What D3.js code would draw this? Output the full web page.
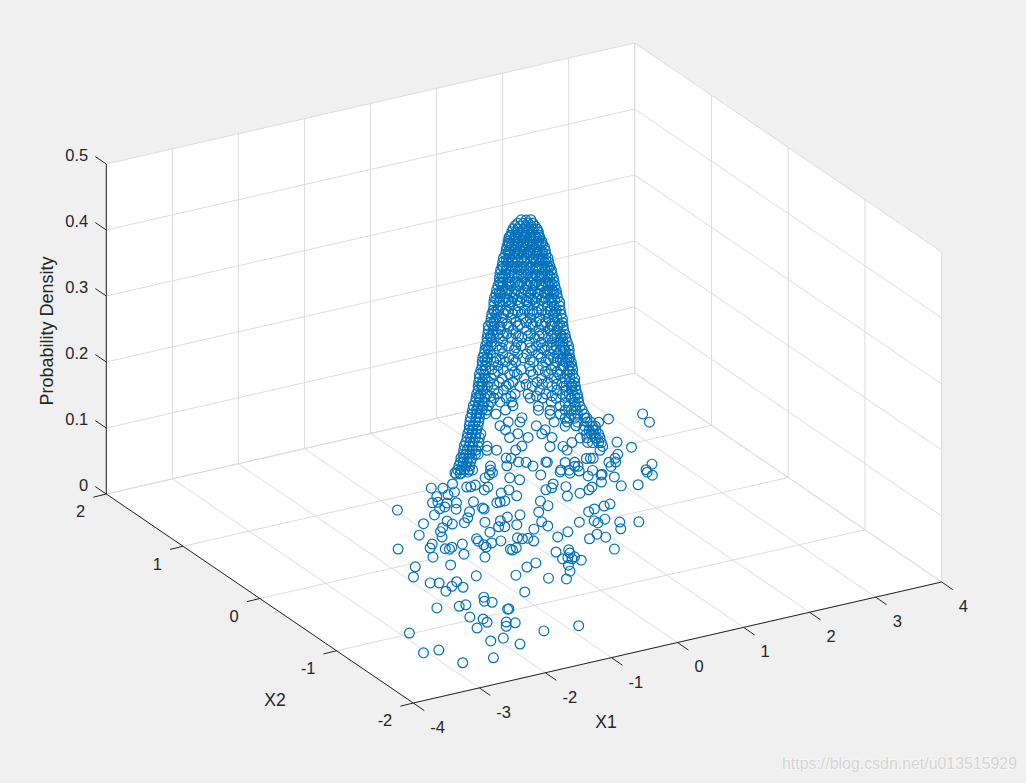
<!DOCTYPE html>
<html><head><meta charset="utf-8">
<script src="https://cdn.jsdelivr.net/npm/d3@7"></script>
<style>html,body{margin:0;padding:0;background:#f0f0f0;overflow:hidden}svg{display:block}text{font-family:"Liberation Sans",Arial,sans-serif;fill:#262626}</style>
</head><body>
<svg id="c" width="1026" height="783"></svg>
<script>
// Values, grouped by density level (one row per level).
const x1Ticks=[-4,-3,-2,-1,0,1,2,3,4];
const x2Ticks=[-2,-1,0,1,2];
const densityTicks=[0,0.1,0.2,0.3,0.4,0.5];
const densityLevels=[.01,.04,.482,.477,.473,.468,.464,.459,.455,.45,.445,.441,.436,.43,.424,.418,.412,.406,.4,.394,.388,.382,.376,.37,.364,.358,.352,.345,.339,.333,.327,.321,.315,.309,.303,.297,.291,.285,.279,.273,.267,.261,.255,.248,.242,.236,.23,.224,.218,.212,.206,.2,.194,.188,.182,.176,.17,.164,.158,.152,.145,.139,.133,.127,.121,.115,.109,.103,.097,
.456,.447,.433,.421,.409,.397,.385,.373,.361,.342,.324,.306,.288,.27,.252,.233,.215];
const x1ByLevel=[
[-2.01,-1.92,-1.82,-1.88,-1.73,-1.60,-1.62,-1.28,-.82,-.50,-.31,-.14,-1.00,-1.55,-1.61,-1.54,-2.26,-1.98,-1.88,-1.48,-1.46,-2.04,-1.92,-1.93,-2.14,-1.71,-1.78,-1.62,-1.43,-.95,-2.99,-2.20,-2.01,-1.92,-2.94,-3.16,-2.88,-2.45,-1.39,-1.82,.17,-.02,.06,.09,-.06,-.39,-.56,.15,-.87,-1.46,-1.06,.16,.02,.20,.73,
-1.08,-.56,-.49,-.40,-.49,-.29,-.40,-.58,-.74,-.08,-.08,-.08,.29,.17,.22,.23,.05,-.09,.03,-.29,-.29,-.41,-.53,-1.01,-1.25,-.70,-.69,-.86,-.95,-1.02,-.40,-.21,-.14,-.42,-.56,-.66,-.68,-.68,-.69,-.91,-1.25,-1.34,-1.72,-1.18,-1.14,-1.08,-.45,-.44,-.36,-.18,-.14,.69,.70,.49,1.06,1.17,1.33,1.43,.78,.97,.98,1.12,1.24,1.14,1.46,.36,.36,.15,-.07,-.05,.49,.29,.78,.83,.62],
[-.66,-.53,-.35,-.74,-.58,-.46,-.24,-.11,-.19,-.09,0,.05,.19,.18,-.14,-.08,.02,.12,.22,.29,.40,.48,.80,1.07,1.16,1.30,1.32,1.48,1.60,1.37,1.18,1.10,.94,.89,.75,.79,.71,.61,1.53,1.74,2.05,2.06,2.24,2.08,2.97,2.91,2.29,2.21,2.50],
[-.03,.02,.08],
[-.07,-.01,.05,.10],
[-.10,-.05,.02,.08,.12],
[-.12,-.07,0,.06,.10,.15],
[-.14,-.08,-.02,.03,.09,.16],
[-.15,-.10,-.03,.02,.08,.12,.17],
[-.17,-.11,-.06,.01,.07,.14,.18],
[-.18,-.12,-.07,0,.06,.11,.16,.20],
[-.18,-.14,-.08,-.01,.05,.10,.17,.21],
[-.19,-.15,-.09,-.03,.02,.09,.15,.23],
[-.20,-.16,-.10,-.05,.01,.07,.12,.18,.24],
[-.21,-.16,-.11,-.06,0,.06,.14,.20,.25],
[-.23,-.17,-.10,-.03,.03,.10,.16,.21,.27],
[-.24,-.18,-.12,-.07,0,.08,.14,.23,.28],
[-.25,-.19,-.14,-.08,-.01,.07,.15,.20,.26,.29],
[-.26,-.20,-.15,-.06,.02,.10,.17,.24,.31],
[-.27,-.21,-.11,-.03,.05,.12,.21,.27,.32],
[-.28,-.23,-.16,-.08,.01,.09,.18,.26,.33],
[-.28,-.24,-.18,-.10,-.02,.07,.15,.24,.29,.34],
[-.29,-.24,-.15,-.06,.03,.11,.20,.28,.35],
[-.31,-.25,-.18,-.09,.01,.09,.18,.27,.32,.36],
[-.32,-.26,-.19,-.11,-.03,.08,.16,.25,.33,.37],
[-.33,-.27,-.20,-.12,-.02,.06,.15,.24,.31,.38],
[-.34,-.28,-.21,-.14,-.05,.03,.12,.23,.32,.40],
[-.34,-.27,-.16,-.07,.05,.16,.26,.34,.40],
[-.35,-.29,-.21,-.10,.01,.09,.20,.29,.36,.41],
[-.36,-.31,-.23,-.12,-.03,.11,.24,.33,.42],
[-.37,-.32,-.24,-.15,-.01,.07,.18,.28,.37,.43],
[-.38,-.33,-.25,-.09,.02,.14,.25,.35,.43],
[-.40,-.34,-.27,-.18,-.07,.10,.23,.32,.38,.44],
[-.40,-.35,-.26,-.12,.03,.17,.29,.37,.45],
[-.41,-.35,-.29,-.19,-.09,.08,.21,.33,.41,.46],
[-.42,-.37,-.28,-.15,-.02,.12,.27,.35,.42,.47],
[-.42,-.36,-.24,-.08,.06,.19,.32,.40,.44,.49],
[-.43,-.37,-.31,-.17,-.03,.14,.26,.36,.43,.50],
[-.44,-.40,-.28,-.11,.09,.23,.34,.41,.46,.51],
[-.45,-.38,-.24,-.07,.03,.16,.29,.38,.45,.51],
[-.46,-.41,-.32,-.17,-.01,.19,.33,.43,.49,.52],
[-.47,-.42,-.34,-.21,-.09,.11,.25,.37,.46,.53],
[-.47,-.43,-.29,-.14,.06,.21,.35,.43,.51,.54],
[-.49,-.43,-.36,-.23,-.03,.16,.31,.42,.50,.55],
[-.50,-.45,-.33,-.16,-.08,.10,.28,.40,.49,.55],
[-.50,-.44,-.37,-.25,0,.20,.34,.46,.52,.57],
[-.51,-.46,-.40,-.28,-.12,.15,.27,.43,.51,.57],
[-.52,-.47,-.41,-.20,-.05,.09,.32,.45,.53,.58],
[-.52,-.46,-.34,-.23,.18,.37,.47,.54,.59],
[-.53,-.49,-.42,-.29,-.10,.05,.25,.43,.51,.60],
[-.54,-.50,-.44,-.34,-.20,.07,.21,.36,.53,.61],
[-.55,-.51,-.45,-.37,-.27,-.14,.31,.46,.57,.62],
[-.57,-.52,-.46,-.40,-.12,.16,.41,.50,.58,.63],
[-.58,-.53,-.47,-.42,-.21,.16,.29,.46,.53,.59,.66],
[-.59,-.53,-.50,-.43,-.32,.29,.41,.53,.60,.68],
[-.60,-.54,-.50,-.02,.46,.51,.57,.69,.71],
[-.61,-.55,-.51,-.18,-.05,.34,.49,.60,.71,.75,.84],
[-.62,-.57,-.52,-.27,.14,.46,.59,.68,.77,.80],
[-.62,-.58,-.53,-.21,.24,.67,.73,.78,.81],
[-.63,-.59,-.54,-.49,-.07,.20,.70,.76,.79,.84],
[-.64,-.60,-.55,-.50,.05,-.16,.32,.63,.71,.80,.82,.86],
[-.66,-.61,-.57,-.51,.54,.72,.77,.84,.87],
[-.67,-.62,-.58,-.52,-.42,-.02,.29,.44,.89],
[-.68,-.64,-.59,-.54,-.42,-.31,-.09,.49,.86],
[-.69,-.66,-.61,-.55,-.52,1.06],
[-.71,-.68,-.63,-.59,-.15,-.20,.70,.75,.78,1.03],
[-.72,-.69,-.64,-.60,.02,-.06,.25,.26,.46,.57,.96,1.04],
[-.73,-.70,-.66,-.61,-.38,-.19,.10,.57,.61,.98],
[-.75,-.71,-.67,-.62,-.58,-.38,.42,.51,.77],
[-.77,-.72,.88],
[-.16,-.09,-.01,.06,.11,.17],
[-.17,-.06,.03,.14,.19],
[-.18,-.08,-.02,.05,.15,.21],
[-.20,-.14,-.07,.01,.11,.19,.25],
[-.23,-.10,-.02,.06,.14,.23,.28],
[-.25,-.14,-.06,.08,.14,.20,.29],
[-.26,-.17,-.05,.03,.12,.19,.27,.32],
[-.28,-.14,-.06,.05,.12,.23,.29,.34],
[-.31,-.17,-.08,.02,.10,.19,.28,.35],
[-.33,-.18,-.07,.06,.15,.27,.35],
[-.36,-.19,-.05,.08,.19,.31,.40],
[-.38,-.23,-.06,.05,.17,.31,.43],
[-.41,-.25,-.09,.07,.20,.31,.45],
[-.44,-.27,-.12,.07,.28,.41,.50],
[-.46,-.29,-.11,.08,.24,.37,.52],
[-.49,-.34,-.17,.02,.21,.37,.54],
[-.51,-.38,-.15,.14,.32,.47,.57]
];
const x2ByLevel=[
[-.29,-.43,-.46,-.60,-.55,-.50,-.60,-.48,-.60,-.75,-.82,-.72,-.87,-.81,-.87,-.91,-.81,-.86,-.86,-1.06,-1.06,-1.05,-1.12,-1.18,-1.23,-1.24,-1.30,-1.28,-1.49,-1.53,-1.08,-1.46,-1.46,-1.60,-1.42,-1.41,-1.68,-1.71,-.24,-.15,-.60,-.52,-.52,-.55,-.63,-.49,-.52,-.53,-.24,-.07,-.13,-.46,-.40,-.41,-.55,
.72,.71,.70,.66,.61,.63,.54,.60,.53,.59,.47,.45,.50,.50,.50,.25,.26,.23,.12,.26,.46,.38,.32,.44,.29,.40,.34,.32,.27,.19,.10,.15,.13,-.06,-.06,.05,.01,-.06,-.10,.02,.12,.07,.16,.01,-.01,.01,-.21,-.23,-.21,-.07,-.10,.38,.29,.23,.07,.09,.10,.11,-.05,-.08,-.12,-.09,-.18,-.28,-.24,.08,0,0,-.11,-.17,-.15,-.19,-.28,-.35,-.32],
[.64,.60,.63,.50,.49,.51,.54,.54,.53,.44,.47,.34,.36,.25,.78,.76,.75,.61,.64,.66,.53,.47,.47,.45,.40,.40,.30,.27,.20,.17,.13,.10,.08,.22,.08,.30,.25,.24,.05,.01,.16,.10,.26,.20,1.01,.87,.57,.69,1.05],
[.01,-.01,-.02],
[.02,0,-.01,-.03],
[.03,.01,-.01,-.02,-.04],
[.04,.02,0,-.02,-.03,-.04],
[.04,.02,.01,-.01,-.03,-.05],
[.04,.03,.01,-.01,-.02,-.04,-.05],
[.05,.03,.02,0,-.02,-.04,-.05],
[.05,.04,.02,0,-.02,-.03,-.05,-.06],
[.05,.04,.02,0,-.01,-.03,-.05,-.06],
[.06,.04,.03,.01,-.01,-.03,-.04,-.07],
[.06,.05,.03,.01,0,-.02,-.04,-.05,-.07],
[.06,.05,.03,.02,0,-.02,-.04,-.06,-.07],
[.07,.05,.03,.01,-.01,-.03,-.05,-.06,-.08],
[.07,.05,.04,.02,0,-.02,-.04,-.07,-.08],
[.07,.06,.04,.02,0,-.02,-.04,-.06,-.08,-.09],
[.08,.06,.04,.02,-.01,-.03,-.05,-.07,-.09],
[.08,.06,.03,.01,-.01,-.04,-.06,-.08,-.09],
[.08,.07,.05,.02,0,-.03,-.05,-.08,-.10],
[.08,.07,.05,.03,.01,-.02,-.04,-.07,-.09,-.10],
[.09,.07,.04,.02,-.01,-.03,-.06,-.08,-.10],
[.09,.07,.05,.03,0,-.03,-.05,-.08,-.09,-.11],
[.09,.08,.06,.03,.01,-.02,-.05,-.07,-.10,-.11],
[.10,.08,.06,.04,.01,-.02,-.04,-.07,-.09,-.11],
[.10,.08,.06,.04,.01,-.01,-.04,-.07,-.09,-.12],
[.10,.08,.05,.02,-.01,-.05,-.08,-.10,-.12],
[.10,.09,.06,.03,0,-.03,-.06,-.09,-.11,-.12],
[.11,.09,.07,.04,.01,-.03,-.07,-.10,-.12],
[.11,.09,.07,.04,0,-.02,-.05,-.08,-.11,-.13],
[.11,.10,.07,.03,-.01,-.04,-.07,-.10,-.13],
[.12,.10,.08,.05,.02,-.03,-.07,-.09,-.11,-.13],
[.12,.10,.08,.04,-.01,-.05,-.09,-.11,-.13],
[.12,.10,.09,.06,.03,-.02,-.06,-.10,-.12,-.14],
[.12,.11,.08,.04,.01,-.04,-.08,-.10,-.12,-.14],
[.12,.11,.07,.02,-.02,-.06,-.09,-.12,-.13,-.14],
[.13,.11,.09,.05,.01,-.04,-.08,-.11,-.13,-.15],
[.13,.12,.08,.03,-.03,-.07,-.10,-.12,-.14,-.15],
[.13,.11,.07,.02,-.01,-.05,-.09,-.11,-.13,-.15],
[.14,.12,.09,.05,0,-.06,-.10,-.13,-.14,-.15],
[.14,.12,.10,.06,.03,-.03,-.07,-.11,-.14,-.16],
[.14,.13,.09,.04,-.02,-.06,-.10,-.13,-.15,-.16],
[.14,.13,.11,.07,.01,-.05,-.09,-.12,-.15,-.16],
[.15,.13,.10,.05,.02,-.03,-.08,-.12,-.14,-.16],
[.15,.13,.11,.07,0,-.06,-.10,-.14,-.15,-.17],
[.15,.14,.12,.08,.04,-.04,-.08,-.13,-.15,-.17],
[.15,.14,.12,.06,.01,-.03,-.09,-.13,-.16,-.17],
[.15,.14,.10,.07,-.05,-.11,-.14,-.16,-.17],
[.16,.14,.12,.09,.03,-.01,-.07,-.13,-.15,-.18],
[.16,.15,.13,.10,.06,-.02,-.06,-.11,-.16,-.18],
[.16,.15,.13,.11,.08,.04,-.09,-.14,-.17,-.18],
[.17,.15,.14,.12,.04,-.05,-.12,-.15,-.17,-.19],
[.17,.16,.14,.12,.06,-.05,-.09,-.14,-.16,-.17,-.19],
[.17,.16,.15,.13,.09,-.09,-.12,-.16,-.18,-.20],
[.18,.16,.15,.01,-.14,-.15,-.17,-.20,-.21],
[.18,.16,.15,.05,.01,-.10,-.14,-.18,-.21,-.22,-.25],
[.18,.17,.15,.08,-.04,-.14,-.17,-.20,-.23,-.24],
[.18,.17,.16,.06,-.07,-.20,-.22,-.23,-.24],
[.19,.17,.16,.14,.02,-.06,-.21,-.22,-.23,-.25],
[.19,.18,.16,.15,-.01,.05,-.09,-.19,-.21,-.24,-.24,-.25],
[.19,.18,.17,.15,-.16,-.21,-.23,-.25,-.26],
[.20,.18,.17,.15,.12,.01,-.09,-.13,-.26],
[.20,.19,.17,.16,.12,.09,.03,-.14,-.25],
[.20,.19,.18,.16,.15,-.31],
[.21,.20,.18,.17,.04,.06,-.21,-.22,-.23,-.30],
[.21,.20,.19,.18,-.01,.02,-.07,-.08,-.14,-.17,-.28,-.30],
[.22,.20,.19,.18,.11,.06,-.03,-.17,-.18,-.29],
[.22,.21,.20,.18,.17,.11,-.12,-.15,-.23],
[.22,.21,-.26],
[.05,.03,0,-.02,-.03,-.05],
[.05,.02,-.01,-.04,-.06],
[.05,.02,.01,-.01,-.04,-.06],
[.06,.04,.02,0,-.03,-.06,-.07],
[.07,.03,.01,-.02,-.04,-.07,-.08],
[.07,.04,.02,-.02,-.04,-.06,-.09],
[.08,.05,.01,-.01,-.04,-.06,-.08,-.09],
[.08,.04,.02,-.01,-.04,-.07,-.09,-.10],
[.09,.05,.02,-.01,-.03,-.06,-.08,-.10],
[.10,.05,.02,-.02,-.04,-.08,-.10],
[.11,.06,.01,-.02,-.06,-.09,-.12],
[.11,.07,.02,-.01,-.05,-.09,-.13],
[.12,.07,.03,-.02,-.06,-.09,-.13],
[.13,.08,.04,-.02,-.08,-.12,-.15],
[.14,.09,.03,-.02,-.07,-.11,-.15],
[.14,.10,.05,-.01,-.06,-.11,-.16],
[.15,.11,.04,-.04,-.09,-.14,-.17]
];
const axisTitles={x1:"X1",x2:"X2",density:"Probability Density"};
const watermark="https://blog.csdn.net/u013515929";

// Oblique 3-D view built from linear scales.
const origin={x:413.3,y:703};
const x1Px=d3.scaleLinear([-4,4],[0,528.4]),x1Py=d3.scaleLinear([-4,4],[0,-121]);
const x2Px=d3.scaleLinear([-2,2],[0,-307]),x2Py=d3.scaleLinear([-2,2],[0,-209]);
const zPy=d3.scaleLinear([0,.5],[0,-330]);
const P=(a,b,c)=>[origin.x+x1Px(a)+x2Px(b),origin.y+x1Py(a)+x2Py(b)+zPy(c)];
const svg=d3.select("#c");
const path=pts=>"M"+pts.map(p=>p.join(",")).join("L");

// panes
const panes=[[[-4,-2,0],[4,-2,0],[4,2,0],[-4,2,0]],[[-4,2,0],[4,2,0],[4,2,.5],[-4,2,.5]],[[4,2,0],[4,-2,0],[4,-2,.5],[4,2,.5]]];
svg.append("g").selectAll("path").data(panes).join("path")
  .attr("d",d=>path(d.map(p=>P(...p)))+"Z").attr("fill","#fff");

// grid
const gridLines=[];
x1Ticks.forEach(v=>{gridLines.push([[v,-2,0],[v,2,0]]);gridLines.push([[v,2,0],[v,2,.5]]);});
x2Ticks.forEach(v=>{gridLines.push([[-4,v,0],[4,v,0]]);gridLines.push([[4,v,0],[4,v,.5]]);});
densityTicks.forEach(v=>{gridLines.push([[-4,2,v],[4,2,v]]);gridLines.push([[4,2,v],[4,-2,v]]);});
svg.append("g").selectAll("path").data(gridLines).join("path")
  .attr("d",d=>path(d.map(p=>P(...p)))).attr("fill","none").attr("stroke","#dcdcdc").attr("stroke-width",1);

// axes
const axisColor="#262626";
const axisG=svg.append("g").attr("stroke",axisColor).attr("fill","none").attr("stroke-width",1);
[[[-4,-2,0],[4,-2,0]],[[-4,2,0],[-4,-2,0]],[[-4,2,0],[-4,2,.5]]].forEach(s=>axisG.append("path").attr("d",path(s.map(p=>P(...p)))));
const seg=(p,dx,dy)=>axisG.append("path").attr("d",`M${p[0]},${p[1]}l${dx},${dy}`);
const label=(t,x,y,anchor)=>svg.append("text").text(t).attr("x",x).attr("y",y).attr("text-anchor",anchor).attr("dy","0.36em").attr("font-size",16.5);
x1Ticks.forEach(v=>{const p=P(v,-2,0);seg(p,11,7.6);label(String(v),p[0]+17,p[1]+24,"start");});
x2Ticks.forEach(v=>{const p=P(-4,v,0);seg(p,-13,3.2);label(String(v),p[0]-21,p[1]+17.5,"end");});
densityTicks.forEach(v=>{const p=P(-4,2,v);seg(p,-11,-7.4);label(String(v),p[0]-18,p[1]-9,"end");});

// scatter
const points=[];
densityLevels.forEach((z,i)=>x1ByLevel[i].forEach((x,j)=>points.push([x,x2ByLevel[i][j],z])));
svg.append("g").selectAll("circle").data(points).join("circle")
  .attr("cx",d=>P(...d)[0]).attr("cy",d=>P(...d)[1]).attr("r",4.9)
  .attr("fill","none").attr("stroke","#0072BD").attr("stroke-width",1.2);

// titles
svg.append("text").text(axisTitles.x1).attr("x",606).attr("y",722).attr("text-anchor","middle").attr("dy","0.36em").attr("font-size",17.5);
svg.append("text").text(axisTitles.x2).attr("x",275).attr("y",700).attr("text-anchor","middle").attr("dy","0.36em").attr("font-size",17.5);
svg.append("text").text(axisTitles.density).attr("transform","translate(47,331) rotate(-90)").attr("text-anchor","middle").attr("dy","0.36em").attr("font-size",18);

// watermark
svg.append("text").text(watermark).attr("x",782).attr("y",769).attr("font-size",15.9)
  .style("fill","#d4d4d4").attr("stroke","#f8f8f8").attr("stroke-width",1.5).attr("paint-order","stroke");
</script>
</body></html>
